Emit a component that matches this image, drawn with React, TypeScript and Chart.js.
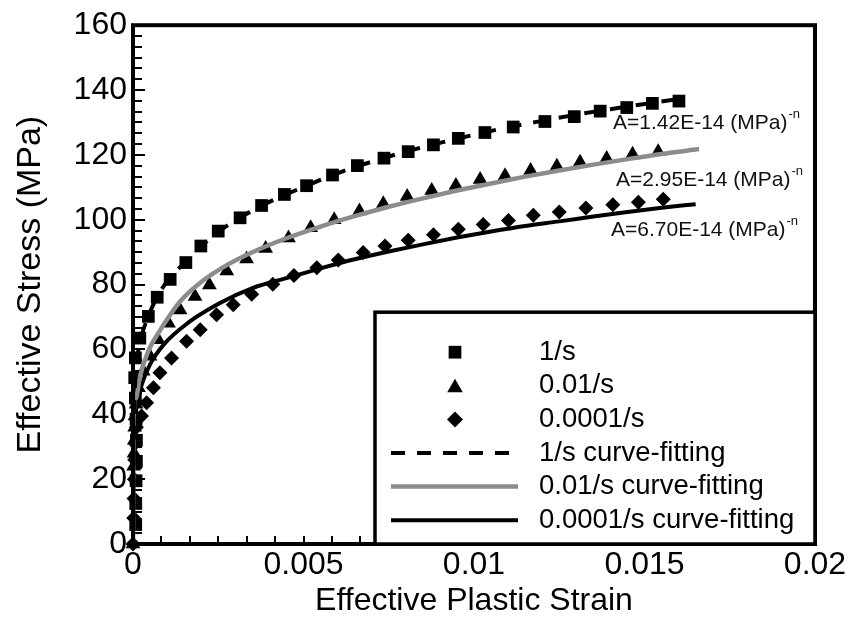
import React, { useEffect, useRef } from 'react';
import { Chart, registerables } from 'chart.js';

Chart.register(...registerables);

const FONT = '"Liberation Sans", Arial, Helvetica, sans-serif';

const strain1s = [0.00008, 0.00008, 0.00009, 0.0001, 0.0001, 0.00009, 0.00007, 0.00005, 0.00007, 0.0002, 0.00045, 0.00071, 0.00109, 0.00155, 0.00199, 0.0025, 0.00314, 0.00377, 0.00444, 0.00509, 0.00585, 0.00658, 0.00736, 0.00807, 0.00881, 0.00954, 0.01032, 0.01115, 0.01208, 0.01294, 0.0137, 0.01448, 0.01523, 0.01601];
const stress1s = [6, 12.5, 19.5, 25.5, 32, 38.5, 45, 51.3, 57.4, 63.5, 70.2, 76.1, 81.6, 86.8, 91.9, 96.5, 100.6, 104.4, 107.8, 110.5, 113.8, 116.7, 119.0, 121.0, 123.1, 125.1, 126.9, 128.6, 130.3, 131.8, 133.5, 134.6, 135.9, 136.6];

const strain001s = [0, 0.00002, 0.00003, 0.00004, 0.00005, 0.00006, 0.00009, 0.00016, 0.0003, 0.0005, 0.00074, 0.00104, 0.00138, 0.00182, 0.00224, 0.00275, 0.00333, 0.00389, 0.00456, 0.00521, 0.0059, 0.00664, 0.00734, 0.00804, 0.00876, 0.00947, 0.01018, 0.01091, 0.01166, 0.01243, 0.01311, 0.01389, 0.01465, 0.0154];
const stress001s = [0, 24, 28, 32, 36, 39.5, 43.1, 48.2, 53.3, 57.9, 63.0, 68.1, 72.2, 76.3, 79.9, 84.2, 87.9, 91.1, 94.4, 97.5, 100.0, 102.7, 104.9, 107.2, 109.0, 110.6, 112.4, 113.6, 115.2, 116.5, 117.7, 118.9, 120.2, 121.0];

const strain00001s = [0, 0.00002, 0.00003, 0.00004, 0.00005, 0.00006, 0.0001, 0.00025, 0.0004, 0.0006, 0.00079, 0.00113, 0.00157, 0.00197, 0.00245, 0.00294, 0.00348, 0.0041, 0.00472, 0.00539, 0.00602, 0.00675, 0.00739, 0.00807, 0.00881, 0.00954, 0.01027, 0.01101, 0.01174, 0.0125, 0.01328, 0.01407, 0.01482, 0.01555];
const stress00001s = [0, 8, 14, 20, 26, 31, 36, 39.5, 43.6, 48.2, 52.8, 57.4, 62.5, 66.1, 70.7, 73.8, 77.0, 80.1, 82.8, 85.2, 87.6, 89.9, 91.9, 93.7, 95.4, 97.1, 98.5, 99.8, 101.4, 102.4, 103.6, 104.6, 105.4, 106.3];

// ---- curve-fitting lines ----
const fitStrain1s = [0, 0.00002, 0.00005, 0.0001, 0.0002, 0.00045, 0.0007, 0.001, 0.0015, 0.002, 0.0025, 0.003, 0.004, 0.005, 0.006, 0.007, 0.008, 0.009, 0.01, 0.011, 0.012, 0.013, 0.014, 0.015, 0.0162];
const fitStress1s = [0, 30, 46, 55, 62, 70.2, 76, 81, 86.6, 91.8, 96.2, 99.8, 105.5, 110.1, 114.4, 117.9, 121, 123.7, 126.2, 128.5, 130.5, 132.4, 134.1, 135.7, 137.5];

const fitStrain001s = [0, 0.00001, 0.00009, 0.0002, 0.00045, 0.0008, 0.0014, 0.002, 0.0028, 0.0035, 0.0045, 0.0055, 0.0065, 0.0075, 0.0085, 0.0095, 0.0105, 0.0115, 0.0125, 0.0135, 0.0145, 0.0155, 0.0166];
const fitStress001s = [0, 38, 45, 51.5, 59.5, 66, 75, 80.8, 86.3, 90, 94.3, 97.9, 101.1, 104, 106.6, 109, 111.2, 113.3, 115.2, 117, 118.7, 120.3, 121.8];

const fitStrain00001s = [0, 0.00001, 0.00006, 0.00011, 0.00026, 0.0005, 0.0009, 0.0016, 0.00255, 0.0035, 0.0045, 0.0055, 0.0065, 0.0075, 0.0085, 0.0095, 0.0105, 0.0115, 0.0125, 0.0135, 0.0145, 0.0155, 0.0165];
const fitStress00001s = [0, 33, 38, 43.1, 49.3, 55.4, 61.5, 68.1, 74.3, 78.9, 82.0, 85.0, 87.8, 90.2, 92.4, 94.5, 96.4, 98.1, 99.5, 101.0, 102.4, 103.7, 104.8];

// ---- texts ----
const xTickLabels = ['0', '0.005', '0.01', '0.015', '0.02'];
const yTickLabels = ['0', '20', '40', '60', '80', '100', '120', '140', '160'];
const legendLabels = ['1/s', '0.01/s', '0.0001/s', '1/s curve-fitting', '0.01/s curve-fitting', '0.0001/s curve-fitting'];
const fitParamLabels = ['A=1.42E-14 (MPa)', 'A=2.95E-14 (MPa)', 'A=6.70E-14 (MPa)'];
const fitParamSup = '-n';

const GRAY = '#8c8c8c';
const DASH = [14, 12];

const pts = (xs: number[], ys: number[]) => xs.map((x, i) => ({ x, y: ys[i] }));

function drawMarker(ctx: CanvasRenderingContext2D, kind: string, x: number, y: number, r: number) {
  ctx.beginPath();
  if (kind === 'rect') {
    const s = r * Math.SQRT1_2;
    ctx.rect(x - s, y - s, 2 * s, 2 * s);
  } else if (kind === 'triangle') {
    ctx.moveTo(x, y - r);
    ctx.lineTo(x + r * Math.sin((2 * Math.PI) / 3), y - r * Math.cos((2 * Math.PI) / 3));
    ctx.lineTo(x + r * Math.sin((4 * Math.PI) / 3), y - r * Math.cos((4 * Math.PI) / 3));
    ctx.closePath();
  } else {
    ctx.moveTo(x - r, y);
    ctx.lineTo(x, y - r);
    ctx.lineTo(x + r, y);
    ctx.lineTo(x, y + r);
    ctx.closePath();
  }
  ctx.fill();
}

const decorPlugin = {
  id: 'decor',
  beforeDatasetsDraw(chart: any) {
    const { ctx, chartArea: a, scales } = chart;
    const xs = scales.x, ys = scales.y;
    ctx.save();
    ctx.strokeStyle = '#000';
    ctx.lineWidth = 2;
    for (let k = 0; k <= 48; k++) {
      const py = Math.round(ys.getPixelForValue((k * 20) / 6));
      const len = k % 6 === 0 ? 12 : 9;
      ctx.beginPath();
      ctx.moveTo(a.left, py);
      ctx.lineTo(a.left + len, py);
      ctx.stroke();
    }
    for (let k = 0; k <= 24; k++) {
      const px = Math.round(xs.getPixelForValue((k * 0.02) / 24));
      ctx.beginPath();
      ctx.moveTo(px, a.bottom);
      ctx.lineTo(px, a.bottom - 8);
      ctx.stroke();
    }
    ctx.restore();
  },
  afterDatasetsDraw(chart: any) {
    const { ctx, chartArea: a } = chart;
    ctx.save();
    // frame
    ctx.strokeStyle = '#000';
    ctx.lineWidth = 4;
    ctx.strokeRect(a.left, a.top, a.right - a.left, a.bottom - a.top);

    // legend box
    const L = a.left + 242, T = a.top + 287, R = a.right, B = a.bottom;
    ctx.fillStyle = '#fff';
    ctx.fillRect(L, T, R - L, B - T);
    ctx.lineWidth = 3.5;
    ctx.strokeRect(L, T, R - L, B - T);

    const markerX = L + 80;
    const lineX0 = L + 16, lineX1 = L + 143;
    const textX = L + 164;
    const rows = legendLabels.map((_, i) => T + 40 + i * 33.6);
    ctx.fillStyle = '#000';
    drawMarker(ctx, 'rect', markerX, rows[0], 9);
    drawMarker(ctx, 'triangle', markerX, rows[1] + 2, 9);
    drawMarker(ctx, 'rectRot', markerX, rows[2], 8);

    ctx.lineWidth = 4;
    ctx.strokeStyle = '#000';
    ctx.setLineDash(DASH);
    ctx.beginPath(); ctx.moveTo(lineX0, rows[3]); ctx.lineTo(lineX1, rows[3]); ctx.stroke();
    ctx.setLineDash([]);
    ctx.strokeStyle = GRAY;
    ctx.lineWidth = 4.5;
    ctx.beginPath(); ctx.moveTo(lineX0, rows[4]); ctx.lineTo(lineX1, rows[4]); ctx.stroke();
    ctx.strokeStyle = '#000';
    ctx.lineWidth = 4;
    ctx.beginPath(); ctx.moveTo(lineX0, rows[5]); ctx.lineTo(lineX1, rows[5]); ctx.stroke();

    ctx.fillStyle = '#000';
    ctx.font = `27.5px ${FONT}`;
    ctx.textBaseline = 'middle';
    ctx.textAlign = 'left';
    legendLabels.forEach((t, i) => ctx.fillText(t, textX, rows[i]));

    // fit parameter annotations
    const anchors = [
      [a.left + 480, a.top + 98],
      [a.left + 483, a.top + 155],
      [a.left + 478, a.top + 205],
    ];
    fitParamLabels.forEach((t, i) => {
      const [px, py] = anchors[i];
      ctx.font = `21px ${FONT}`;
      ctx.fillStyle = '#111';
      ctx.fillText(t, px, py);
      const w = ctx.measureText(t).width;
      ctx.font = `13px ${FONT}`;
      ctx.fillText(fitParamSup, px + w + 1, py - 9);
    });
    ctx.restore();
  },
};

export default function App() {
  const ref = useRef<HTMLCanvasElement | null>(null);
  useEffect(() => {
    if (!ref.current) return;
    const markerCommon = { showLine: false, backgroundColor: '#000', borderWidth: 0, clip: false as any, order: 2 };
    const lineCommon = { showLine: true, pointRadius: 0, fill: false, cubicInterpolationMode: 'monotone' as const, order: 1 };
    const chart = new Chart(ref.current, {
      type: 'scatter',
      data: {
        datasets: [
          { label: legendLabels[0], data: pts(strain1s, stress1s), pointStyle: 'rect', pointRadius: 9, ...markerCommon },
          { label: legendLabels[1], data: pts(strain001s, stress001s), pointStyle: 'triangle', pointRadius: 8.5, ...markerCommon },
          { label: legendLabels[2], data: pts(strain00001s, stress00001s), pointStyle: 'rectRot', pointRadius: 7.5, ...markerCommon },
          { label: legendLabels[3], data: pts(fitStrain1s, fitStress1s), borderColor: '#000', borderWidth: 4, borderDash: DASH, ...lineCommon },
          { label: legendLabels[4], data: pts(fitStrain001s, fitStress001s), borderColor: GRAY, borderWidth: 4.5, ...lineCommon },
          { label: legendLabels[5], data: pts(fitStrain00001s, fitStress00001s), borderColor: '#000', borderWidth: 4, ...lineCommon },
        ],
      },
      options: {
        responsive: false,
        animation: false,
        events: [],
        layout: { padding: { left: 0, top: 22, right: 37, bottom: 0 } },
        plugins: { legend: { display: false }, tooltip: { enabled: false } },
        scales: {
          x: {
            type: 'linear',
            min: 0,
            max: 0.02,
            afterFit: (s: any) => { s.height = 92; },
            grid: { display: false, drawTicks: false },
            border: { display: false },
            ticks: {
              stepSize: 0.005,
              color: '#000',
              padding: 2,
              maxRotation: 0,
              font: { family: FONT, size: 32 },
              callback: (v: any) => xTickLabels[Math.round(Number(v) / 0.005)] ?? '',
            },
            title: {
              display: true,
              text: 'Effective Plastic Strain',
              color: '#000',
              font: { family: FONT, size: 32 },
              padding: { top: 0, bottom: 16 },
            },
          },
          y: {
            type: 'linear',
            min: 0,
            max: 160,
            afterFit: (s: any) => { s.width = 133; },
            grid: { display: false, drawTicks: false },
            border: { display: false },
            ticks: {
              stepSize: 20,
              color: '#000',
              padding: 6,
              font: { family: FONT, size: 32 },
              callback: (v: any) => yTickLabels[Math.round(Number(v) / 20)] ?? '',
            },
            title: {
              display: true,
              text: 'Effective Stress (MPa)',
              color: '#000',
              font: { family: FONT, size: 34 },
              padding: { top: 10, bottom: 0 },
            },
          },
        },
      },
      plugins: [decorPlugin],
    });
    return () => chart.destroy();
  }, []);
  return (
    <div style={{ position: 'fixed', left: 0, top: 0, width: 852, height: 636, background: '#fff' }}>
      <canvas ref={ref} width={852} height={636} style={{ display: 'block' }} />
    </div>
  );
}
